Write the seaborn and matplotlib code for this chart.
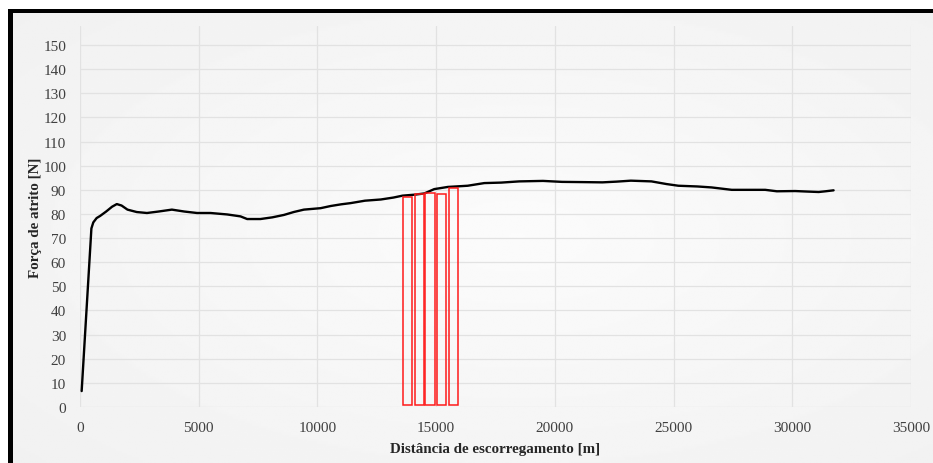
import numpy as np
import pandas as pd
import matplotlib
matplotlib.use("Agg")
import matplotlib.pyplot as plt
from matplotlib.patches import Rectangle
import seaborn as sns

# Friction force vs sliding distance
distance_m = [70, 480, 560, 700, 850, 1100, 1350, 1550, 1750, 2000, 2390, 2820,
              3300, 3870, 4400, 4930, 5500, 6200, 6760, 7040, 7600, 8100, 8590,
              9000, 9430, 10135, 10560, 11000, 11400, 12000, 12670, 13200, 13590,
              14100, 14500, 14920, 15490, 16000, 16330, 17030, 17740, 18500,
              19500, 20300, 21200, 22000, 22600, 23200, 24070, 24700, 25200,
              26000, 26600, 27450, 28200, 28860, 29350, 30120, 30600, 31110,
              31400, 31740]
friction_n = [6.6, 74.0, 76.5, 78.3, 79.2, 81.0, 83.0, 84.1, 83.5, 81.8, 80.8, 80.4,
              81.0, 81.8, 81.0, 80.4, 80.4, 79.8, 79.0, 77.9, 77.9, 78.6, 79.6,
              80.8, 81.8, 82.4, 83.3, 84.0, 84.5, 85.5, 86.0, 86.8, 87.6,
              88.0, 88.5, 90.3, 91.2, 91.5, 91.7, 92.8, 93.0, 93.5,
              93.7, 93.3, 93.2, 93.1, 93.4, 93.8, 93.5, 92.4, 91.7,
              91.4, 91.0, 90.0, 90.0, 90.0, 89.4, 89.5, 89.3, 89.1,
              89.4, 89.8]

# Highlighted measurement windows
box_centers = [13790, 14290, 14745, 15230, 15730]
box_tops = [87.2, 88.3, 88.5, 88.3, 90.8]
box_bottom = 0.8
box_width = 400

x_ticks = list(range(0, 35001, 5000))
y_ticks = list(range(0, 151, 10))

sns.set_theme(style="whitegrid")
plt.rcParams["font.family"] = ["Liberation Serif", "DejaVu Serif"]

W, H = 933, 464
fig = plt.figure(figsize=(W / 100, H / 100), dpi=100, facecolor="white")

# Panel background with a soft radial shading
bg = fig.add_axes([8 / W, 0, 1 - 8 / W, 1 - 10 / H], zorder=-10)
yy, xx = np.mgrid[0:1:200j, 0:1:400j]
r = np.sqrt(((xx - 0.55) / 0.9) ** 2 + ((yy - 0.5) / 0.9) ** 2)
shade = np.clip(0.985 - 0.05 * r, 0.93, 0.99)
bg.imshow(shade, cmap="gray", vmin=0, vmax=1, aspect="auto", extent=[0, 1, 0, 1])
bg.set_axis_off()

# Frame edges on left and top
fig.add_artist(Rectangle((8 / W, 0), 4.5 / W, 1 - 10 / H, transform=fig.transFigure,
                         facecolor="black", edgecolor="none", zorder=5))
fig.add_artist(Rectangle((8 / W, 1 - 13.5 / H), 1 - 8 / W, 3.5 / H,
                         transform=fig.transFigure, facecolor="black",
                         edgecolor="none", zorder=5))

ax = fig.add_axes([80 / W, (H - 408) / H, (911 - 80) / W, (408 - 27) / H])
ax.set_facecolor("none")

df = pd.DataFrame({"dist": distance_m, "force": friction_n})
sns.lineplot(data=df, x="dist", y="force", ax=ax, color="black", linewidth=1.7,
             estimator=None, sort=False)

ax.bar(box_centers, [t - box_bottom for t in box_tops], bottom=box_bottom,
       width=box_width, fill=False, edgecolor="#ff1a1a", linewidth=1.1, zorder=4)

ax.set_xlim(0, 35000)
ax.set_ylim(0, 157.9)
ax.set_xticks(x_ticks)
ax.set_yticks(y_ticks)
ax.set_xticklabels([str(v) for v in x_ticks])
ax.set_yticklabels([str(v) for v in y_ticks])
ax.tick_params(axis="both", length=0, labelsize=11, labelcolor="#404040")
ax.tick_params(axis="x", pad=10)
ax.tick_params(axis="y", pad=10)
ax.grid(True, color="#e2e2e2", linewidth=0.9)
for s in ax.spines.values():
    s.set_visible(False)

ax.set_xlabel("Distância de escorregamento [m]", fontsize=10.8, fontweight="bold",
              color="#262626", labelpad=6)
ax.set_ylabel("Força de atrito [N]", fontsize=10.8, fontweight="bold",
              color="#262626", labelpad=1)

fig.savefig("out.png", dpi=100, facecolor="white")
